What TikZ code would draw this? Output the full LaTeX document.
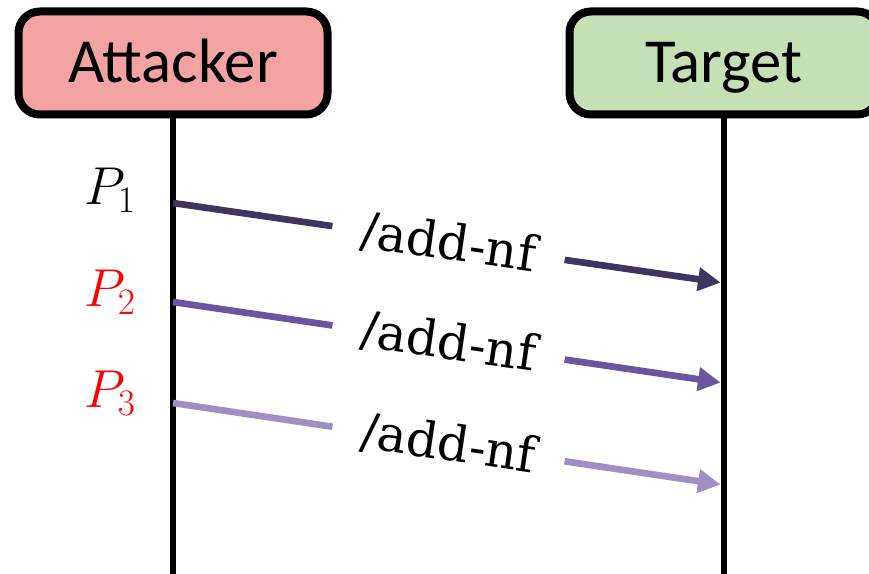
\documentclass[tikz,border=0pt]{standalone}
\usepackage{fix-cm}
\usepackage{fontspec}
\newfontfamily\carlito{Carlito}
\newfontfamily\msgfont{DejaVu Serif}
\usetikzlibrary{positioning,arrows.meta}

\definecolor{attfill}{HTML}{F4A3A3}
\definecolor{tgtfill}{HTML}{C5E0B4}
\definecolor{msgA}{HTML}{3F3560}
\definecolor{msgB}{HTML}{6A55A0}
\definecolor{msgC}{HTML}{A08FC5}

\begin{document}
\begin{tikzpicture}[x=0.75pt,y=-0.75pt,node distance=413.25pt,on grid,
 party/.style={draw,line width=6pt,rounded corners=16pt,minimum width=231.75pt,
   minimum height=77.25pt,text height=30pt,text depth=0pt,
   font=\carlito\fontsize{47}{50}\selectfont},
 life/.style={line width=5pt},
 msg/.style={line width=5pt,shorten >=2.5pt,-{Triangle[length=17pt,width=17pt]}},
 lbl/.style={sloped,fill=white,inner xsep=22pt,inner ysep=1pt,
   font=\msgfont\fontsize{37}{40}\selectfont},
 pkt/.style={anchor=base,font=\fontsize{40}{44}\selectfont}]
 \useasboundingbox (0,0) rectangle (869,574);
 \clip (0,0) rectangle (869,574);

 % the two parties and their lifelines
 \node[party,fill=attfill] (att) at (173,63) {Attacker};
 \node[party,fill=tgtfill] (tgt) [right=of att] {Target};
 \coordinate (attEnd) at (att.south |- 0,580);
 \coordinate (tgtEnd) at (tgt.south |- 0,580);
 \draw[life] (att.south) -- (attEnd);
 \draw[life] (tgt.south) -- (tgtEnd);

 % packets
 \node[pkt] (p1) at (110,205) {$P_1$};
 \node[pkt,text=red] (p2) at (110,307) {$P_2$};
 \node[pkt,text=red] (p3) at (110,407) {$P_3$};

 \coordinate (s1) at (att.south |- 0,203);
 \coordinate (s2) at (att.south |- 0,302);
 \coordinate (s3) at (att.south |- 0,403);
 \coordinate (e1) at (tgt.south |- 0,283);
 \coordinate (e2) at (tgt.south |- 0,383);
 \coordinate (e3) at (tgt.south |- 0,485);

 \path[msg]
 (s1) edge[draw=msgA] node[lbl] (m1) {/add-nf} (e1)
 (s2) edge[draw=msgB] node[lbl] (m2) {/add-nf} (e2)
 (s3) edge[draw=msgC] node[lbl] (m3) {/add-nf} (e3);

\end{tikzpicture}
\end{document}
